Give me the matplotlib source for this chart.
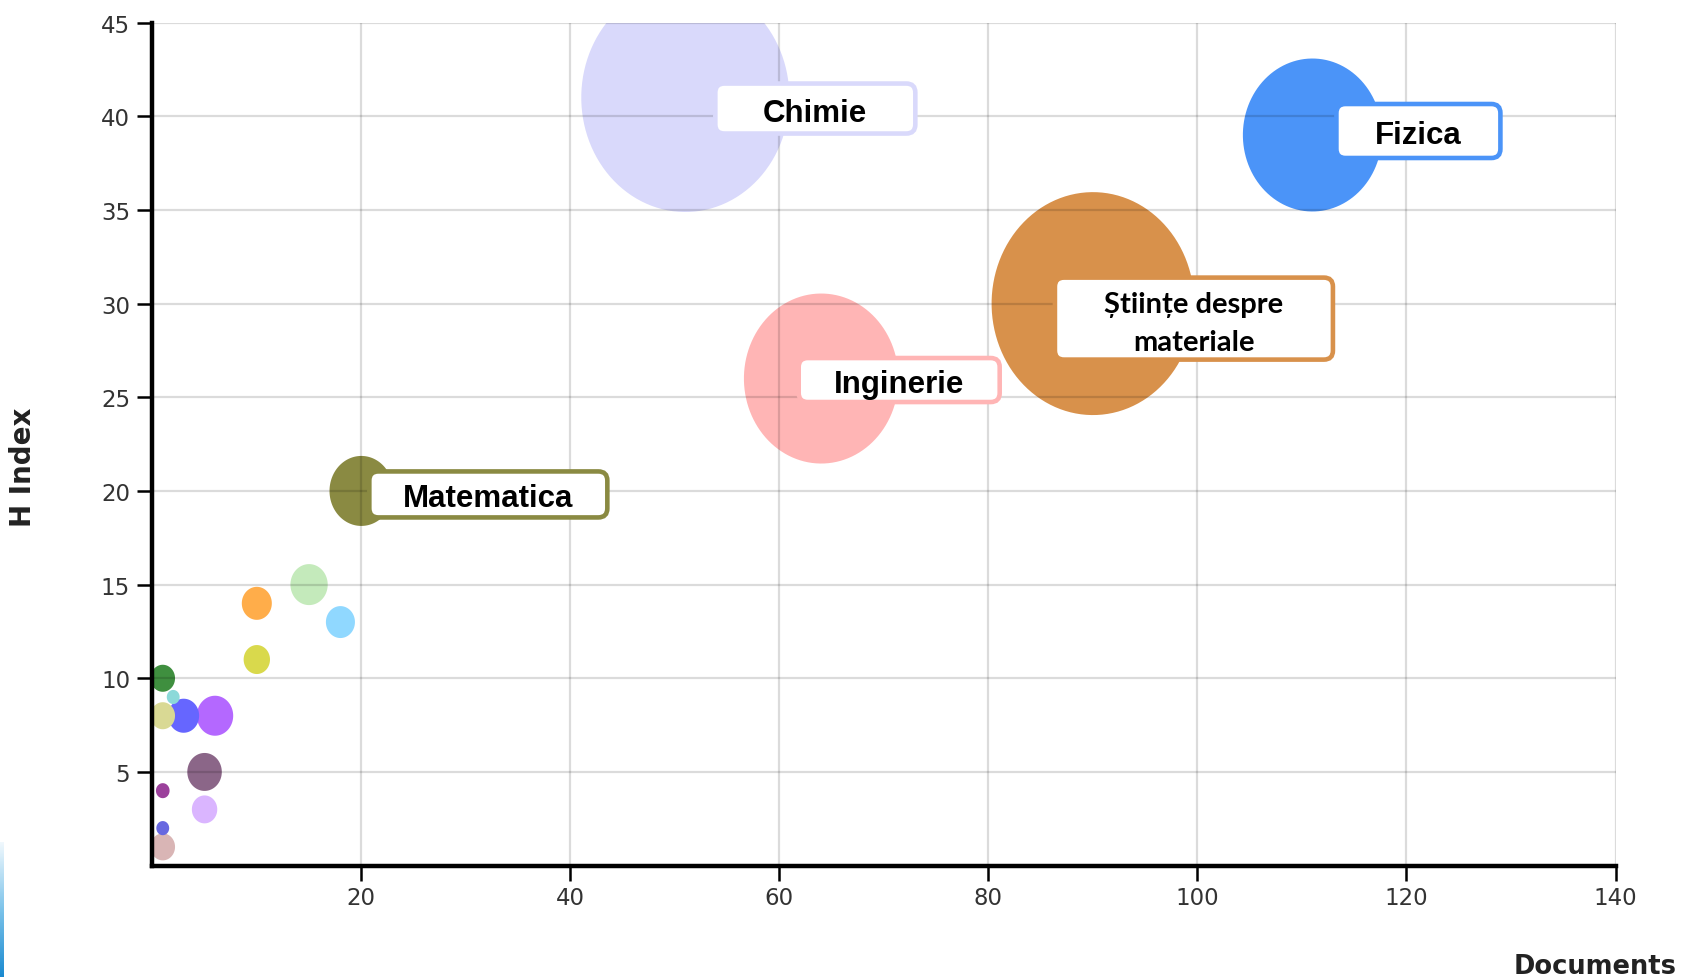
import numpy as np
import matplotlib
matplotlib.use('Agg')
import matplotlib.pyplot as plt
from matplotlib.path import Path
from matplotlib.markers import MarkerStyle
from matplotlib.patches import FancyBboxPatch
from matplotlib.transforms import Affine2D, ScaledTranslation
from matplotlib.colors import LinearSegmentedColormap

# ---------------- data ----------------
fields = ['Chimie', 'Fizica', 'Științe despre\nmateriale', 'Inginerie', 'Matematica',
          'f6', 'f7', 'f8', 'f9', 'f10', 'f11', 'f12', 'f13', 'f14', 'f15',
          'f16', 'f17', 'f18', 'f19']
documents = [51, 111, 90, 64, 20, 10, 15, 18, 10, 1, 2, 1, 3, 6, 5, 1, 5, 1, 1]
h_index = [41, 39, 30, 26, 20, 14, 15, 13, 11, 10, 9, 8, 8, 8, 5, 4, 3, 2, 1]
bubble_value = [524, 234, 497, 289, 49, 10.9, 16.8, 10.2, 8.4, 7.3,
                2.0, 7.3, 11.6, 16.0, 14.4, 2.25, 7.8, 2.0, 7.3]
colors = ['#d9d9fb', '#4b94f8', '#d8914b', '#ffb5b5', '#8a8a42',
          '#ffad4a', '#c4eabb', '#90d8ff', '#d9d94c', '#3f8f3f',
          '#8cd9d9', '#d9d994', '#6666ff', '#b468ff', '#8b6688',
          '#9b409b', '#dab5ff', '#6868e0', '#d9b5b5']
x_ticks = [20, 40, 60, 80, 100, 120, 140]
y_ticks = [5, 10, 15, 20, 25, 30, 35, 40, 45]

# label styling: (offset dx, dy in px, box w, h in px, font family, font size, linespacing)
label_style = {
    'Chimie': (130, -11, 200, 50, 'Liberation Sans', 22.5, 1.2),
    'Fizica': (106, 4, 164, 54, 'Liberation Sans', 22.5, 1.2),
    'Științe despre\nmateriale': (101, -15, 278, 82, 'Lato', 21, 1.58),
    'Inginerie': (78, -1.5, 201, 44, 'Liberation Sans', 22.5, 1.2),
    'Matematica': (127, -3.5, 238, 46, 'Liberation Sans', 22.5, 1.2),
}

# ---------------- figure ----------------
W, H = 1682, 978
fig = plt.figure(figsize=(W / 100, H / 100), dpi=100)
ax = fig.add_axes([152.3 / W, 1 - 866.6 / H, (1615.5 - 152.3) / W, (866.6 - 23.6) / H])

t = np.linspace(0, 2 * np.pi, 120)
ell = Path(np.column_stack([np.cos(t) / 1.1, np.sin(t)]), closed=True)
marker = MarkerStyle(ell)

order = np.argsort(bubble_value)[::-1]
xs = np.array(documents)[order]
ys = np.array(h_index)[order]
ss = np.array(bubble_value)[order] * 51.84
cs = [colors[i] for i in order]
ax.scatter(xs, ys, s=ss, c=cs, marker=marker, linewidths=0, zorder=1)

ax.set_xlim(0, 140)
ax.set_ylim(0, 45)
ax.set_xticks(x_ticks)
ax.set_yticks(y_ticks)
ax.grid(True, color='black', alpha=0.14, linewidth=1.6)
ax.set_axisbelow('line')

for side in ['top', 'right']:
    ax.spines[side].set_visible(False)
for side in ['left', 'bottom']:
    ax.spines[side].set_linewidth(3.2)
    ax.spines[side].set_color('black')
ax.tick_params(axis='both', direction='out', length=11, width=1.8, color='black',
               labelsize=16.5, labelcolor='#333333')
ax.tick_params(axis='y', pad=5)
ax.tick_params(axis='x', pad=4)
for lab in ax.get_xticklabels() + ax.get_yticklabels():
    lab.set_family('DejaVu Sans')

fig.text(23 / W, 1 - 467 / H, 'H Index', rotation=90, ha='center', va='center',
         fontsize=20, fontweight='bold', color='#222222', family='DejaVu Sans')
fig.text(1677 / W, 4 / H, 'Documents', ha='right', va='baseline',
         fontsize=18.5, fontweight='bold', color='#222222', family='DejaVu Sans')

# labels with rounded boxes
for name, x, y, col in zip(fields, documents, h_index, colors):
    if name not in label_style:
        continue
    dx, dy, bw, bh, fam, fs, ls = label_style[name]
    tr = Affine2D().translate(dx, dy) + ScaledTranslation(x, y, ax.transData)
    box = FancyBboxPatch((-bw / 2, -bh / 2), bw, bh,
                         boxstyle='round,pad=0,rounding_size=9',
                         facecolor='white', edgecolor=col, linewidth=3.3,
                         transform=tr, zorder=5)
    fig.add_artist(box)
    ttr = Affine2D().translate(dx, dy - 4) + ScaledTranslation(x, y, ax.transData)
    fig.text(0, 0, name, transform=ttr, ha='center', va='center', fontsize=fs,
             fontweight='bold', color='black', family=[fam, 'Open Sans', 'DejaVu Sans'],
             linespacing=ls, zorder=6)

# thin gradient strip at the left edge
strip = fig.add_axes([0, 0, 4 / W, 135 / H])
grad = np.linspace(0, 1, 100).reshape(-1, 1)
cmap = LinearSegmentedColormap.from_list('s', ['#1a8ad0', '#7cc3ea', '#f0f8fd'])
strip.imshow(grad, aspect='auto', cmap=cmap, origin='lower')
strip.axis('off')

fig.savefig('out.png', dpi=100)
